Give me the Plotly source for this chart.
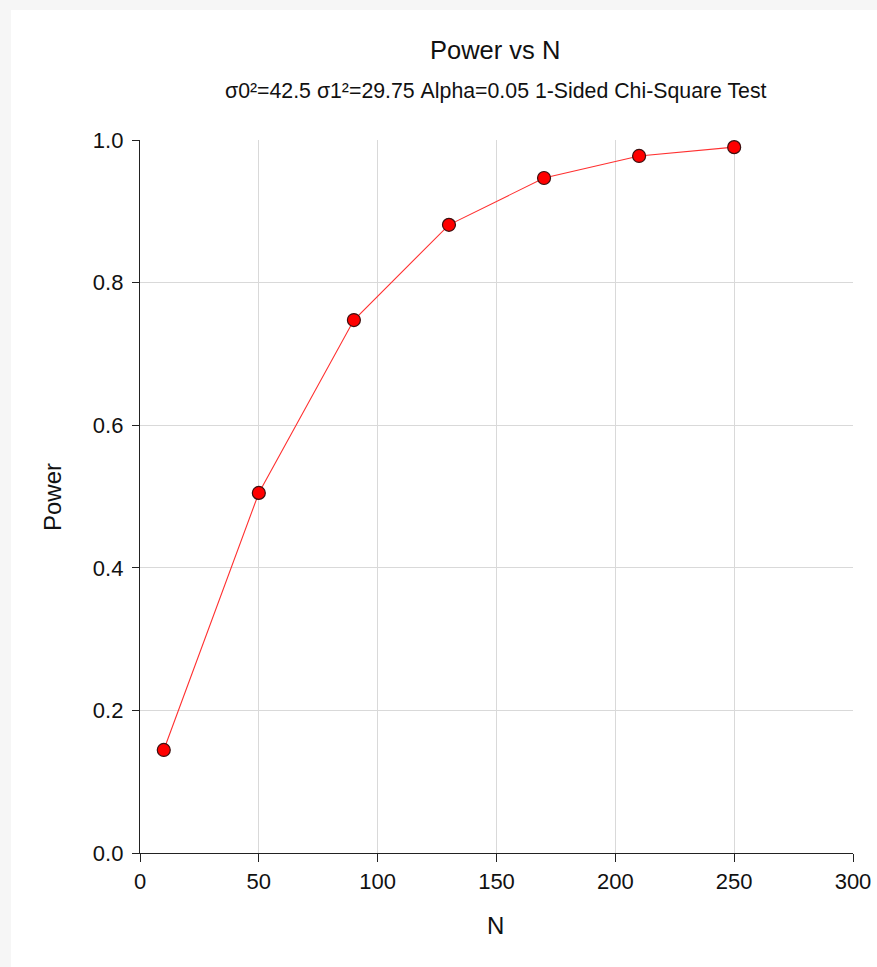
import plotly.graph_objects as go

n_values = [10, 50, 90, 130, 170, 210, 250]
power_values = [0.1445, 0.505, 0.7475, 0.881, 0.9467, 0.9776, 0.990]
x_ticks = [0, 50, 100, 150, 200, 250, 300]
y_ticks = [0.0, 0.2, 0.4, 0.6, 0.8, 1.0]
y_tick_labels = ["0.0", "0.2", "0.4", "0.6", "0.8", "1.0"]

W, H = 877, 967
L, R, T, B = 140, 24, 140, 114
pw = W - L - R
ph = H - T - B

def px_x(px):
    return (px - L) / pw

def px_y(py):
    return (H - B - py) / ph

FONT = "Liberation Sans, Arial, sans-serif"

fig = go.Figure()
fig.add_trace(go.Scatter(
    x=n_values, y=power_values, mode="lines+markers",
    line=dict(color="#ff3030", width=1.1),
    marker=dict(size=13, color="#ff0000", line=dict(color="#3a1010", width=1.2)),
    showlegend=False, cliponaxis=False,
))

fig.update_layout(
    width=W, height=H,
    margin=dict(l=L, r=R, t=T, b=B, pad=0, autoexpand=False),
    paper_bgcolor="#f6f6f6",
    plot_bgcolor="white",
    font=dict(family=FONT, color="#111111"),
    shapes=[dict(type="rect", xref="paper", yref="paper",
                 x0=px_x(11), x1=px_x(W + 5), y0=px_y(H + 5), y1=px_y(10),
                 fillcolor="white", line=dict(width=0), layer="below")],
    annotations=[
        dict(text="Power vs N", xref="paper", yref="paper", x=px_x(495), y=px_y(50),
             showarrow=False, font=dict(size=25.5, family=FONT, color="#111111"),
             xanchor="center", yanchor="middle"),
        dict(text="σ0²=42.5 σ1²=29.75 Alpha=0.05 1-Sided Chi-Square Test",
             xref="paper", yref="paper", x=px_x(496), y=px_y(91),
             showarrow=False, font=dict(size=21.3, family=FONT, color="#111111"),
             xanchor="center", yanchor="middle"),
        dict(text="Power", xref="paper", yref="paper", x=px_x(52), y=px_y(497),
             showarrow=False, textangle=-90, font=dict(size=24, family=FONT, color="#111111"),
             xanchor="center", yanchor="middle"),
        dict(text="N", xref="paper", yref="paper", x=px_x(495), y=px_y(925),
             showarrow=False, font=dict(size=24, family=FONT, color="#111111"),
             xanchor="center", yanchor="middle"),
    ],
)

fig.update_xaxes(
    range=[0, 300], tickvals=x_ticks, ticktext=[str(v) for v in x_ticks],
    showgrid=True, gridcolor="#d9d9d9", gridwidth=1,
    showline=True, linecolor="#222222", linewidth=1.3,
    ticks="outside", ticklen=8, tickcolor="#222222", tickwidth=1.3,
    tickfont=dict(size=22, family=FONT, color="#111111"),
    zeroline=False, fixedrange=True, automargin=False,
)
fig.update_yaxes(
    range=[0, 1], tickvals=y_ticks, ticktext=y_tick_labels,
    showgrid=True, gridcolor="#d9d9d9", gridwidth=1,
    showline=True, linecolor="#222222", linewidth=1.3,
    ticks="outside", ticklen=7, tickcolor="#222222", tickwidth=1.3,
    tickfont=dict(size=22, family=FONT, color="#111111"),
    ticklabelstandoff=4,
    zeroline=False, fixedrange=True, automargin=False,
)

fig.write_html("out.html", config={"displayModeBar": False})
